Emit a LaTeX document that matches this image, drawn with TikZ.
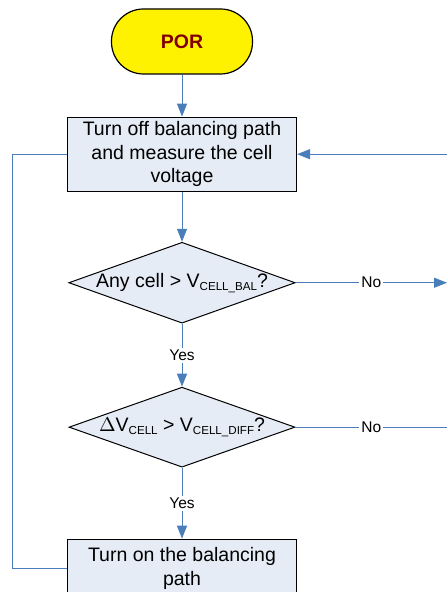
\documentclass[tikz,border=0pt]{standalone}
\usepackage{fontspec}
\setmainfont{Liberation Sans}
\usepackage{xcolor}
\usetikzlibrary{arrows.meta, positioning, shapes.geometric}
\definecolor{FlowBlue}{RGB}{74,126,187}
\definecolor{FlowFill}{RGB}{230,236,246}
\definecolor{PorRed}{RGB}{128,0,0}
\newcommand{\lowidx}[1]{\raisebox{-0.3ex}{\fontsize{5.8}{6}\selectfont #1}}

\begin{document}
\begin{tikzpicture}[
    font=\fontsize{9.75}{11.75}\selectfont,
    term/.style={rectangle, rounded corners=16pt, draw=black, fill=yellow, line width=0.6pt, minimum width=70.5pt, minimum height=32.5pt, text=PorRed, font=\fontsize{9.75}{11.75}\selectfont\bfseries},
    proc/.style={rectangle, draw=black, fill=FlowFill, line width=0.6pt, minimum width=114.5pt, inner sep=1pt, align=center},
    dec/.style={diamond, draw=black, fill=FlowFill, line width=0.5pt, minimum width=113pt, minimum height=40pt, inner sep=0pt, aspect=2.8},
    link/.style={draw=FlowBlue, line width=0.5pt},
    arrow/.style={link, -{Triangle[length=6.5pt, width=5pt]}},
    lbl/.style={fill=white, inner sep=1pt, font=\fontsize{7.75}{9}\selectfont}
]
\useasboundingbox (0,0) rectangle (223.5pt,-296pt);
\clip (0,0) rectangle (223.5pt,-296pt);

\node[term] (por) at (91pt,-20.75pt) {POR};
\node[proc, minimum height=37pt, below=21pt of por] (measure) {Turn off balancing path\\and measure the cell\\voltage};
\node[dec, below=25pt of measure] (anycell) {Any cell > V\lowidx{CELL\_BAL}?};
\node[dec, below=31.5pt of anycell] (diffcell) {$\Delta$V\lowidx{CELL} > V\lowidx{CELL\_DIFF}?};
\node[proc, minimum height=29pt, below=35.5pt of diffcell] (balance) {Turn on the balancing\\path};

\coordinate (noA) at (223.5pt,0 |- anycell);
\coordinate (noB) at (223.5pt,0 |- diffcell);
\coordinate (back) at (223.5pt,0 |- measure);

\draw[arrow] (por) -- (measure);
\draw[arrow] (measure) -- (anycell);
\draw[arrow] (anycell) -- node[lbl]{Yes} (diffcell);
\draw[arrow] (diffcell) -- node[lbl]{Yes} (balance);
\draw[arrow] (anycell.east) -- node[lbl]{No} (noA);
\draw[link] (diffcell.east) -- node[lbl]{No} (noB);
\draw[arrow] (back) -- (measure.east);
\draw[link] (balance.west) -- ++(-27pt,0) |- (measure.west);
\end{tikzpicture}
\end{document}
